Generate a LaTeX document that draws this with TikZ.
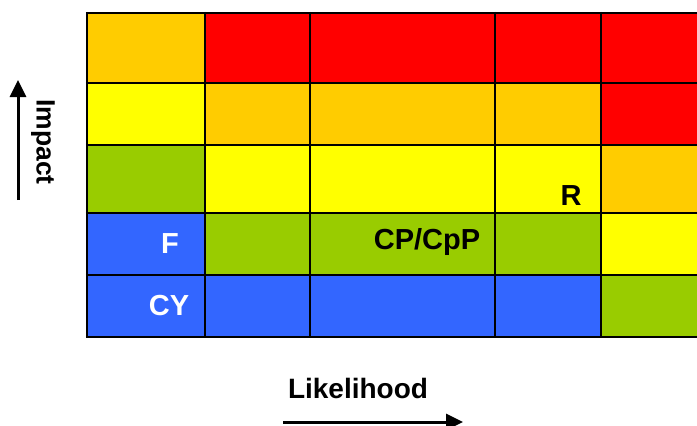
\documentclass[tikz,border=0pt]{standalone}
\usepackage{fontspec}
\setmainfont{Liberation Sans}
\usetikzlibrary{arrows.meta}
\definecolor{cOr}{HTML}{FFCC00}
\definecolor{cRd}{HTML}{FF0000}
\definecolor{cYe}{HTML}{FFFF00}
\definecolor{cGr}{HTML}{99CC00}
\definecolor{cBl}{HTML}{3366FF}
\tikzset{
  gridline/.style={line width=2.5pt, black},
  axisarrow/.style={line width=3pt, -{Triangle[length=17pt,width=16pt]}},
  celllabel/.style={font=\fontsize{29}{31}\selectfont\bfseries, inner sep=0pt},
  axislabel/.style={font=\fontsize{28}{30}\selectfont\bfseries, inner sep=0pt},
}
\begin{document}
\begin{tikzpicture}[x=1pt,y=-1pt]
\useasboundingbox (0,0) rectangle (697,426);
\def\xs{{87,205,310,495,601,700}}
\def\ys{{13,83,145,213,275,337}}
\foreach \r/\cols in {0/{cOr,cRd,cRd,cRd,cRd},1/{cYe,cOr,cOr,cOr,cRd},2/{cGr,cYe,cYe,cYe,cOr},3/{cBl,cGr,cGr,cGr,cYe},4/{cBl,cBl,cBl,cBl,cGr}}{
  \foreach \c [count=\i from 0] in \cols {
    \pgfmathsetmacro{\xa}{\xs[\i]}
    \pgfmathsetmacro{\xb}{\xs[\i+1]}
    \pgfmathsetmacro{\ya}{\ys[\r]}
    \pgfmathsetmacro{\yb}{\ys[\r+1]}
    \fill[\c] (\xa,\ya) rectangle (\xb,\yb);
  }
}
\foreach \y in {13,83,145,213,275,337} \draw[gridline] (85.75,\y) -- (700,\y);
\foreach \x in {87,205,310,495,601} \draw[gridline] (\x,11.75) -- (\x,338.25);
% cell labels
\node[celllabel, text=white] (F) at (170,244) {F};
\node[celllabel, text=white] (CY) at (169,306) {CY};
\node[celllabel] (CP) at (427,242) {CP/CpP};
\node[celllabel] (R) at (571,196) {R};
% axes
\node[axislabel, font=\fontsize{26.5}{28}\selectfont\bfseries, rotate=-90] (imp) at (43,142) {Impact};
\coordinate (ia) at (18,200);
\coordinate (ib) at (18,80);
\draw[axisarrow] (ia) -- (ib);
\node[axislabel] (lik) at (358,388) {Likelihood};
\coordinate (la) at (283,422);
\coordinate (lb) at (463,422);
\draw[axisarrow] (la) -- (lb);
\end{tikzpicture}
\end{document}
